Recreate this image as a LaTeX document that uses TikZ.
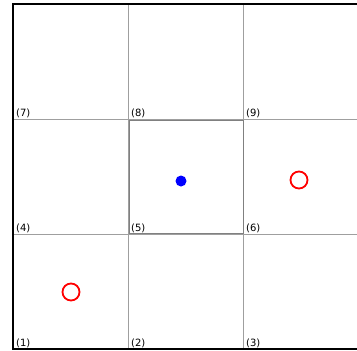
\documentclass[tikz,border=0pt]{standalone}
\usepackage{fontspec}
\setmainfont{DejaVu Sans}
\usetikzlibrary{positioning}

\begin{document}
\begin{tikzpicture}[x=1pt, y=-1pt,
  gridline/.style={draw=gray!75, line width=0.8pt},
  centrebox/.style={draw=gray, line width=1pt},
  frame/.style={draw=black, line width=2pt},
  celllabel/.style={anchor=south west, inner sep=1pt, font=\fontsize{10}{11}\selectfont},
  agent/.style={circle, fill=blue, inner sep=0pt, minimum size=11pt},
  goal/.style={circle, draw=red, line width=1.8pt, inner sep=0pt, minimum size=17pt}
]
  \useasboundingbox (0,0) rectangle (357,351);
  \clip (0,0) rectangle (357,351);
  % grid lines
  \foreach \x in {128,243} \draw[gridline] (\x,4) -- (\x,349);
  \foreach \y in {119,234} \draw[gridline] (13,\y) -- (358,\y);
  % centre cell
  \draw[centrebox] (129,120) rectangle (243.5,233.5);
  % outer frame
  \draw[frame] (13,4) rectangle (358,349);
  % cell numbers
  \node[celllabel] (lab7) at (15,119) {(7)};
  \node[celllabel] (lab8) at (130,119) {(8)};
  \node[celllabel] (lab9) at (245,119) {(9)};
  \node[celllabel] (lab4) at (15,234) {(4)};
  \node[celllabel] (lab5) at (130,234) {(5)};
  \node[celllabel] (lab6) at (245,234) {(6)};
  \node[celllabel] (lab1) at (15,349) {(1)};
  \node[celllabel] (lab2) at (130,349) {(2)};
  \node[celllabel] (lab3) at (245,349) {(3)};
  % markers
  \node[agent] (agent) at (181,181) {};
  \node[goal] (goalA) at (299,180) {};
  \node[goal] (goalB) at (71,292) {};
\end{tikzpicture}
\end{document}
